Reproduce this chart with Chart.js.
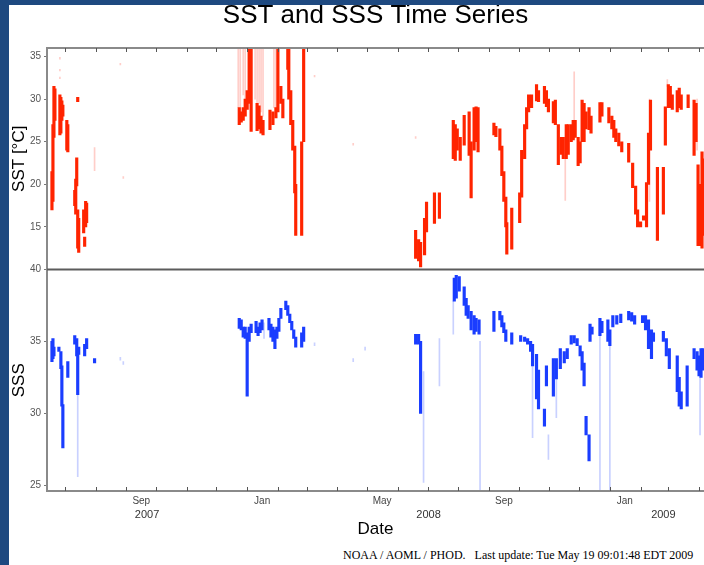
<!DOCTYPE html>
<html><head><meta charset="utf-8">
<script src="https://cdn.jsdelivr.net/npm/chart.js@4.4.1/dist/chart.umd.min.js"></script>
<style>
html,body{margin:0;padding:0;width:704px;height:565px;overflow:hidden;background:#fff;}
#lb{position:absolute;left:0;top:0;width:9px;height:565px;background:#1e4980;z-index:3}
#tb{position:absolute;left:0;top:0;width:704px;height:5px;background:#1e4980;z-index:3}
#wrap{position:absolute;left:9px;top:0;width:695px;height:545px;}
#foot{position:absolute;left:343px;top:548px;font:12px "Liberation Serif","Times New Roman",serif;white-space:nowrap;color:#000}
</style></head><body>
<div id="wrap"><canvas id="c" width="695" height="545"></canvas></div>
<div id="lb"></div><div id="tb"></div>
<div id="foot">NOAA / AOML / PHOD.&nbsp;&nbsp; Last update: Tue May 19 09:01:48 EDT 2009</div>
<script>
// x values: days since 2007-01-01
const xMin = 163, xMax = 826;
const monthTickLabels = ['Jan','','','','May','','','','Sep','','',''];
const yearLabels = ['2007','2008','2009'];
const yearLabelDay = [264, 548, 785];
const sstTicks = [15, 20, 25, 30, 35];
const sssTicks = [25, 30, 35, 40];

// SST dense samples (day, low, high)
const sstDay = [168,169,170,171,176,177,178,179,183,184,191,192,193,194,194,195,200,201,202,203,
357,359,361,363,365,367,369,375,377,379,381,388,391,394,396,399,401,406,407,409,411,413,414,420,422,
535,538,540,544,546,554,559,573,575,577,580,584,589,591,594,596,598,614,616,620,622,624,626,627,632,
640,642,645,647,649,652,657,659,665,667,669,674,676,679,682,684,687,689,692,694,696,699,701,703,705,
707,710,712,721,723,730,733,735,737,740,743,750,754,757,759,762,765,768,770,772,779,785,787,790,792,
794,799,801,803,810,816,818,820,822,824,825];
const sstLo = [17.0,18.0,25.5,27.5,25.8,26.0,27.5,28.0,24.0,23.8,17.5,16.5,19.8,29.7,12.5,12.0,14.3,12.7,15.0,15.5,
27.0,27.3,27.5,28.0,28.8,29.5,26.2,26.3,26.5,26.0,25.8,26.4,27.0,27.8,28.5,29.5,27.8,33.5,30.0,27.0,24.0,19.0,14.0,14.0,25.0,
11.3,11.0,10.3,11.7,14.4,15.4,16.0,23.0,22.8,24.0,22.8,24.6,23.4,18.4,24.0,25.0,23.8,25.8,25.6,24.0,21.0,18.0,15.0,11.8,12.4,
15.5,18.5,23.0,26.5,28.5,29.0,29.8,29.7,29.5,29.1,28.5,27.2,27.0,22.3,23.5,23.0,23.0,23.5,25.0,25.2,25.5,22.2,22.5,25.0,25.0,
26.5,26.4,26.0,27.3,28.0,27.2,26.5,25.5,25.0,24.5,23.8,22.6,19.6,16.5,15.0,15.0,15.8,15.0,20.0,24.0,13.4,16.5,24.6,29.0,29.0,
28.8,28.5,29.0,28.8,29.0,23.4,25.0,12.8,12.8,12.5,14.0];
const sstHi = [21.5,27.0,31.5,31.2,30.5,30.2,29.8,29.3,27.5,27.0,19.3,20.6,23.1,30.2,17.0,16.0,17.0,13.8,18.0,17.8,
29.0,28.5,29.0,30.0,31.0,36,36,29.5,29.2,28.0,27.5,28.7,28.5,29.0,36,31.5,30.0,36,36,31.0,27.5,24.5,20.0,25.0,36,
14.6,13.5,13.2,16.0,17.9,19.0,19.0,27.5,27.0,26.5,25.5,28.1,28.5,25.0,29.0,29.1,29.0,27.2,26.8,26.5,24.5,21.5,18.5,15.5,17.2,
19.0,24.0,27.0,29.0,30.5,30.5,31.7,31.0,31.5,31.0,30.0,29.7,29.9,27.0,25.5,25.5,27.0,27.0,27.0,27.5,27.5,25.5,25.0,29.9,29.5,
28.5,29.0,28.0,29.6,29.6,29.0,28.0,27.5,26.5,26.0,25.0,24.8,22.5,19.8,17.0,15.6,16.3,20.2,26.0,29.9,22.0,22.0,29.1,31.7,31.5,
30.5,31.0,31.3,30.5,30.5,29.9,29.5,22.3,20.0,23.8,23.0];

// SST sparse / faint samples
const sstFaintDay = [176,176,176,211,237,240,356,358,361,363,373,375,377,379,381,392,394,433,472,535,686,695,771,789,819];
const sstFaintLo = [32.4,33.3,34.7,21.6,34.0,20.7,29.0,28.5,30.5,30.0,30.0,29.5,29.5,28.5,28.0,29.0,29.0,32.6,24.6,25.4,18.1,25.4,18.0,31.5,24.0];
const sstFaintHi = [32.6,33.5,34.9,24.3,34.2,20.9,36,36,36,36,36,36,36,36,36,36,36,32.8,24.8,25.6,23.5,33.2,30.0,32.3,30.0];

// SSS dense samples (day, low, high)
const sssDay = [168,169,170,175,177,178,179,184,191,193,194,195,201,203,211,
357,359,361,363,365,367,369,374,376,378,380,387,389,391,393,395,397,399,404,406,408,410,412,414,420,422,
535,538,540,574,576,579,584,586,588,591,594,596,599,614,620,622,624,626,632,641,645,648,651,653,657,659,
665,667,674,677,681,685,688,692,695,698,701,703,705,707,710,711,713,721,723,729,731,734,738,742,750,753,
756,764,767,770,773,775,785,788,791,799,801,803,809,816,819,821,823,825];
const sssLo = [33.6,33.8,34.0,34.3,33.1,30.5,27.6,32.5,34.8,34.0,31.3,34.1,34.0,34.5,33.5,
35.9,35.8,35.3,35.2,31.2,35.0,35.6,35.6,35.4,35.6,35.8,35.8,35.3,35.0,34.5,35.2,35.7,36.6,37.2,36.8,36.3,35.8,35.2,34.6,34.6,35.0,
34.8,34.8,30.0,37.8,38.0,38.5,37.5,36.8,36.6,35.8,35.5,35.7,35.5,35.7,36.5,36.0,35.6,35.0,34.8,35.0,35.0,34.8,34.3,33.3,31.0,30.3,
29.1,31.9,31.2,32.4,33.1,33.5,33.8,34.8,34.9,34.7,34.0,33.0,31.9,28.5,26.7,35.0,35.5,35.4,35.6,35.0,34.7,36.0,36.2,36.3,36.5,36.4,
36.2,36.3,35.8,34.5,33.8,35.0,35.0,34.0,33.1,31.5,30.5,30.3,30.5,33.8,33.0,32.6,32.5,33.0];
const sssHi = [35.0,35.2,34.6,34.6,34.3,33.3,30.6,33.6,35.4,35.2,34.3,34.6,34.8,35.2,33.8,
36.6,36.5,36.0,36.0,35.6,36.0,36.2,36.4,36.0,36.3,36.5,36.6,36.2,36.0,35.8,36.0,36.6,37.3,37.8,37.5,36.9,36.4,35.8,35.3,35.6,36.0,
35.5,35.5,35.0,39.4,39.6,39.5,38.8,38.0,37.5,37.1,36.8,36.6,36.5,37.1,37.1,36.8,36.3,35.8,35.6,35.4,35.3,35.2,35.0,34.8,34.1,33.0,
30.3,33.3,33.8,33.8,34.5,34.3,34.5,35.4,35.4,35.2,34.7,34.3,33.5,29.8,28.5,36.2,36.0,36.6,36.4,36.5,35.8,36.8,36.8,36.9,37.1,37.0,
36.8,36.8,36.8,36.5,35.8,35.6,35.7,35.2,34.5,34.0,32.5,31.5,33.3,34.5,34.3,34.0,34.5,34.5];

// SSS sparse / faint samples
const sssFaintDay = [194,237,240,382,433,472,484,543,559,573,600,653,669,677,721,731,822];
const sssFaintLo = [25.6,33.7,33.4,35.2,34.7,33.6,34.4,25.2,31.9,35.5,24.7,28.3,26.8,29.7,24.7,24.7,28.5];
const sssFaintHi = [31.3,33.9,33.6,36.3,34.9,33.8,34.6,32.9,35.2,37.8,35.0,33.3,28.5,32.4,35.4,34.7,33.0];

function toPoints(days, lo, hi) {
  return days.map((d, i) => ({ x: d, y: [lo[i], hi[i]] }));
}

const DAY0 = Date.UTC(2007, 0, 1);
const monthDays = [], monthIdx = [];
for (let y = 2007; y <= 2009; y++) {
  for (let m = 0; m < 12; m++) {
    const d = (Date.UTC(y, m, 1) - DAY0) / 86400000;
    if (d >= xMin && d <= xMax) { monthDays.push(d); monthIdx.push(m); }
  }
}

const FONT = '"Liberation Sans", Arial, Helvetica, sans-serif';
const RED = '#ff2400', BLUE = '#1a3dff';

const framePlugin = {
  id: 'frame',
  afterDatasetsDraw(chart) {
    const { ctx, chartArea: a, scales } = chart;
    ctx.save();
    ctx.strokeStyle = '#8a8a8a';
    ctx.lineWidth = 2;
    ctx.beginPath();
    ctx.moveTo(a.right + 2, a.top); ctx.lineTo(a.left, a.top); ctx.lineTo(a.left, a.bottom); ctx.lineTo(a.right + 2, a.bottom);
    ctx.stroke();
    const sep = scales.ySSS.top;
    ctx.strokeStyle = '#5c5c5c';
    ctx.lineWidth = 2;
    ctx.beginPath(); ctx.moveTo(a.left, sep); ctx.lineTo(a.right + 2, sep); ctx.stroke();
    ctx.strokeStyle = '#555';
    ctx.lineWidth = 1;
    scales.x.ticks.forEach(t => {
      const px = Math.round(scales.x.getPixelForValue(t.value)) + 0.5;
      ctx.beginPath();
      ctx.moveTo(px, a.top); ctx.lineTo(px, a.top + 4);
      ctx.moveTo(px, a.bottom); ctx.lineTo(px, a.bottom - 4);
      ctx.stroke();
    });
    ctx.restore();
  }
};

const yCommon = {
  type: 'linear', position: 'left', stack: 'panels', stackWeight: 1, offset: false,
  border: { display: false },
  grid: { drawOnChartArea: false, drawTicks: true, tickLength: 3, color: '#777' },
  ticks: { font: { family: FONT, size: 10 }, color: '#555', padding: 3, autoSkip: false },
  afterFit: s => { s.width = 38; }
};

new Chart(document.getElementById('c'), {
  type: 'bar',
  data: {
    datasets: [
      { data: toPoints(sstDay, sstLo, sstHi), yAxisID: 'ySST', xAxisID: 'x', backgroundColor: RED, barThickness: 2.5, grouped: false, borderWidth: 0 },
      { data: toPoints(sssDay, sssLo, sssHi), yAxisID: 'ySSS', xAxisID: 'x', backgroundColor: BLUE, barThickness: 2.5, grouped: false, borderWidth: 0 },
      { data: toPoints(sstFaintDay, sstFaintLo, sstFaintHi), yAxisID: 'ySST', xAxisID: 'x', backgroundColor: 'rgba(255,60,40,0.25)', barThickness: 1, grouped: false, borderWidth: 0 },
      { data: toPoints(sssFaintDay, sssFaintLo, sssFaintHi), yAxisID: 'ySSS', xAxisID: 'x', backgroundColor: 'rgba(40,70,255,0.25)', barThickness: 1, grouped: false, borderWidth: 0 }
    ]
  },
  options: {
    responsive: false,
    animation: false,
    devicePixelRatio: 1,
    layout: { padding: 0 },
    plugins: {
      legend: { display: false },
      tooltip: { enabled: false },
      title: {
        display: true, text: 'SST and SSS Time Series', fullSize: false,
        font: { family: FONT, size: 26, weight: 'normal' }, color: '#000',
        padding: { top: 0, bottom: 16.8 }
      }
    },
    scales: {
      x: {
        type: 'linear', position: 'bottom', min: xMin, max: xMax, offset: false, weight: 0,
        grid: { display: false, drawTicks: false }, border: { display: false },
        afterBuildTicks: s => { s.ticks = monthDays.map(v => ({ value: v })); },
        afterFit: s => { s.height = 17; },
        ticks: {
          autoSkip: false, maxRotation: 0, padding: 4, labelOffset: 15,
          font: { family: FONT, size: 10 }, color: '#444',
          callback: (v, i) => monthTickLabels[monthIdx[i]]
        }
      },
      xYear: {
        type: 'linear', position: 'bottom', min: xMin, max: xMax, offset: false, weight: 1,
        grid: { display: false, drawTicks: false }, border: { display: false },
        afterBuildTicks: s => { s.ticks = yearLabelDay.map(v => ({ value: v })); },
        afterFit: s => { s.height = 37; },
        ticks: {
          autoSkip: false, maxRotation: 0, padding: 0,
          font: { family: FONT, size: 11 }, color: '#333',
          callback: (v, i) => yearLabels[i]
        },
        title: { display: true, text: 'Date', font: { family: FONT, size: 17 }, color: '#000', padding: { top: 0, bottom: 5 } }
      },
      ySST: Object.assign({}, yCommon, {
        min: 10, max: 36, weight: 1,
        afterBuildTicks: s => { s.ticks = sstTicks.map(v => ({ value: v })); },
        title: { display: true, text: 'SST [°C]', font: { family: FONT, size: 17 }, color: '#000', padding: { top: 0, bottom: 0 } }
      }),
      ySSS: Object.assign({}, yCommon, {
        min: 24.6, max: 40, weight: 0,
        afterBuildTicks: s => { s.ticks = sssTicks.map(v => ({ value: v })); },
        title: { display: true, text: 'SSS', font: { family: FONT, size: 17 }, color: '#000', padding: { top: 0, bottom: 0 } }
      })
    }
  },
  plugins: [framePlugin]
});
</script>
</body></html>
